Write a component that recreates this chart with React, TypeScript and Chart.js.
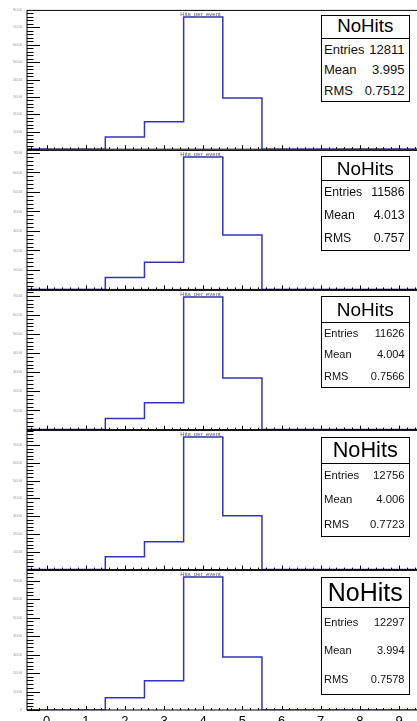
import React, { useEffect, useRef } from "react";
import { Chart, registerables } from "chart.js";
Chart.register(...registerables);

// ---------------- data ----------------
const categories = [0, 1, 2, 3, 4, 5, 6, 7, 8, 9];
const binEdges = [-0.5, 0.5, 1.5, 2.5, 3.5, 4.5, 5.5, 6.5, 7.5, 8.5, 9.5];
const countsPanel1 = [0, 0, 700, 1578, 7590, 2945, 0, 0, 0, 0];
const countsPanel2 = [0, 0, 611, 1399, 6791, 2785, 0, 0, 0, 0];
const countsPanel3 = [0, 0, 580, 1410, 6939, 2697, 0, 0, 0, 0];
const countsPanel4 = [0, 0, 720, 1560, 7446, 3030, 0, 0, 0, 0];
const countsPanel5 = [0, 0, 662, 1582, 7191, 2862, 0, 0, 0, 0];
const yTickValues = [0, 1000, 2000, 3000, 4000, 5000, 6000, 7000, 8000];
const histTitle = "Hits_per_event";
const statsTitle = "NoHits";
const statsEntries = ["12811", "11586", "11626", "12756", "12297"];
const statsMean = ["3.995", "4.013", "4.004", "4.006", "3.994"];
const statsRms = ["0.7512", "0.757", "0.7566", "0.7723", "0.7578"];
const xTickLabels = ["0", "1", "2", "3", "4", "5", "6", "7", "8", "9"];
const panels = [countsPanel1, countsPanel2, countsPanel3, countsPanel4, countsPanel5];

// ---------------- layout ----------------
const FONT = '"Liberation Sans", Arial, Helvetica, sans-serif';
const FRAME_LEFT = 27;
const FRAME_RIGHT = 418.6;
const FRAME_TOP = 9;
const FRAME_BOTTOM = 710;
const CANVAS_W = 420;
const PANEL_H = (FRAME_BOTTOM - FRAME_TOP) / 5;
const LINE_COLOR = "#3434b8";
const boxGeom = [
  { top: 15, sep: 37.7, bottom: 102, titleFont: 18.7, rowFont: 13 },
  { top: 156, sep: 180, bottom: 250.7, titleFont: 19, rowFont: 12.3 },
  { top: 296, sep: 321.7, bottom: 387.7, titleFont: 19, rowFont: 11 },
  { top: 436.7, sep: 462.7, bottom: 537.3, titleFont: 21.7, rowFont: 11.3 },
  { top: 576.7, sep: 606.7, bottom: 695, titleFont: 25, rowFont: 11 },
];
const BOX_LEFT = 321;
const BOX_W = 88.5;

const framePlugin = {
  id: "rootFrame",
  afterDatasetsDraw(chart: any) {
    const { ctx, chartArea } = chart;
    const { left, right, top, bottom } = chartArea;
    const xs = chart.scales.x;
    const ys = chart.scales.y;
    ctx.save();
    ctx.strokeStyle = "#000";
    ctx.lineWidth = 1;
    ctx.strokeRect(left, top, right - left, bottom - top);
    ctx.beginPath();
    for (let v = 0; v <= ys.max; v += 200) {
      const py = Math.round(ys.getPixelForValue(v)) + 0.5;
      const len = v % 1000 === 0 ? 13 : 6.5;
      ctx.moveTo(left, py);
      ctx.lineTo(left + len, py);
    }
    for (let k = -2; k <= 47; k++) {
      const v = k / 5;
      const px = Math.round(xs.getPixelForValue(v)) + 0.5;
      const len = k % 5 === 0 ? 4 : 2;
      ctx.moveTo(px, bottom);
      ctx.lineTo(px, bottom - len);
    }
    ctx.stroke();
    ctx.fillStyle = "#555";
    ctx.font = `6px ${FONT}`;
    ctx.textAlign = "center";
    ctx.textBaseline = "top";
    ctx.fillText(histTitle, 200.5, top + 1);
    ctx.restore();
  },
};

function Panel({ index }: { index: number }) {
  const ref = useRef<HTMLCanvasElement | null>(null);
  const isLast = index === 4;
  const frameTop = FRAME_TOP + index * PANEL_H;
  const canvasTop = Math.floor(frameTop) - 6;
  const canvasH = isLast ? 721 - canvasTop : 154;
  const padTop = frameTop - canvasTop;
  const xAxisH = isLast ? canvasH - padTop - PANEL_H : 0;
  const padBottom = isLast ? 0 : canvasH - padTop - PANEL_H;

  useEffect(() => {
    const counts = panels[index];
    const points = binEdges.map((e, i) => ({ x: e, y: counts[Math.min(i, counts.length - 1)] }));
    const ymax = Math.max(...counts) * 1.05;
    const chart = new Chart(ref.current as HTMLCanvasElement, {
      type: "line",
      data: {
        datasets: [
          {
            data: points,
            stepped: "before",
            borderColor: LINE_COLOR,
            borderWidth: 1.5,
            pointRadius: 0,
            fill: false,
          } as any,
        ],
      },
      options: {
        animation: false,
        responsive: false,
        devicePixelRatio: 1,
        layout: { padding: { top: padTop, bottom: padBottom, left: 0, right: CANVAS_W - FRAME_RIGHT } },
        plugins: { legend: { display: false }, tooltip: { enabled: false }, title: { display: false } },
        scales: {
          x: {
            type: "linear",
            min: -0.5,
            max: 9.5,
            display: isLast,
            grid: { display: false, drawTicks: false },
            border: { display: false },
            ticks: {
              autoSkip: false,
              maxRotation: 0,
              padding: 4,
              color: "#000",
              font: { family: FONT, size: 13 },
              callback: (v: any) => {
                const i = categories.indexOf(Number(v));
                return i >= 0 ? xTickLabels[i] : "";
              },
            },
            afterBuildTicks: (s: any) => {
              s.ticks = categories.map((v) => ({ value: v }));
            },
            afterFit: (s: any) => {
              s.height = xAxisH;
            },
          },
          y: {
            type: "linear",
            min: 0,
            max: ymax,
            grid: { display: false, drawTicks: false },
            border: { display: false },
            ticks: {
              autoSkip: false,
              padding: 5,
              color: "#999",
              font: { family: FONT, size: 4 },
              callback: (v: any) => (Number(v) === 0 && !isLast ? "" : String(v)),
            },
            afterBuildTicks: (s: any) => {
              s.ticks = yTickValues.filter((v) => v <= s.max + 40).map((v) => ({ value: v }));
            },
            afterFit: (s: any) => {
              s.width = FRAME_LEFT;
            },
          },
        },
      } as any,
      plugins: [framePlugin],
    });
    return () => chart.destroy();
  }, []);

  return (
    <canvas
      ref={ref}
      width={CANVAS_W}
      height={canvasH}
      style={{ position: "absolute", left: 0, top: canvasTop, width: CANVAS_W, height: canvasH }}
    />
  );
}

function StatsBox({ index }: { index: number }) {
  const g = boxGeom[index];
  const rows: [string, string][] = [
    ["Entries", statsEntries[index]],
    ["Mean", statsMean[index]],
    ["RMS", statsRms[index]],
  ];
  return (
    <div
      style={{
        position: "absolute",
        left: BOX_LEFT,
        top: g.top,
        width: BOX_W,
        height: g.bottom - g.top,
        boxSizing: "border-box",
        border: "1px solid #000",
        background: "#fff",
        display: "flex",
        flexDirection: "column",
        fontFamily: FONT,
        color: "#000",
      }}
    >
      <div
        style={{
          height: g.sep - g.top - 1,
          borderBottom: "1px solid #000",
          display: "flex",
          alignItems: "center",
          justifyContent: "center",
          fontSize: g.titleFont,
          lineHeight: 1,
        }}
      >
        {statsTitle}
      </div>
      {rows.map(([k, v]) => (
        <div
          key={k}
          style={{
            flex: 1,
            display: "flex",
            alignItems: "center",
            justifyContent: "space-between",
            padding: "0 4px 0 2px",
            fontSize: g.rowFont,
            lineHeight: 1,
            color: "#111",
          }}
        >
          <span>{k}</span>
          <span>{v}</span>
        </div>
      ))}
    </div>
  );
}

export default function App() {
  return (
    <div
      style={{
        position: "fixed",
        left: 0,
        top: 0,
        width: 417,
        height: 721,
        overflow: "hidden",
        background: "#fff",
      }}
    >
      {panels.map((_, i) => (
        <Panel key={i} index={i} />
      ))}
      {panels.map((_, i) => (
        <StatsBox key={"s" + i} index={i} />
      ))}
    </div>
  );
}
